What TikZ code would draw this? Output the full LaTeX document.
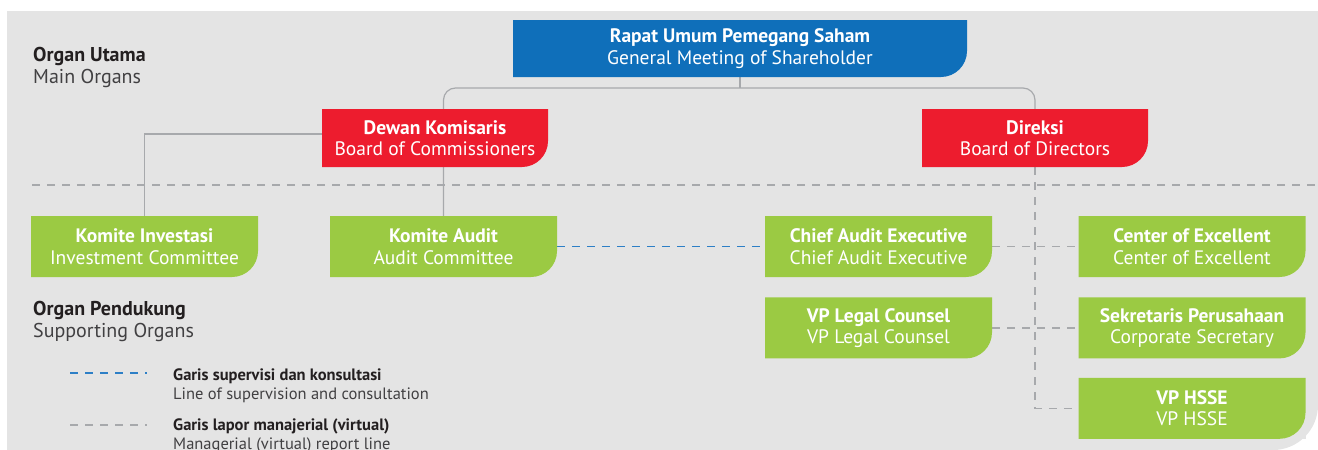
\documentclass[tikz,border=0pt]{standalone}
\usepackage{fontspec}
\setmainfont{PT Sans}
\usetikzlibrary{positioning,backgrounds}
\definecolor{bggrey}{HTML}{E4E4E4}
\definecolor{rupsblue}{HTML}{0F6FBA}
\definecolor{boardred}{HTML}{ED1C2E}
\definecolor{organgreen}{HTML}{9BCA43}
\definecolor{linegrey}{HTML}{A7A9AC}
\definecolor{supblue}{HTML}{2D7FC6}
\definecolor{headdark}{HTML}{231F20}
\definecolor{subgrey}{HTML}{414042}
\tikzset{
    orgbox/.style={
        rectangle,
        fill=bggrey,
        text=white,
        align=center,
        inner sep=0pt,
        minimum width=227pt,
        minimum height=61pt,
        font=\fontsize{19.5}{21.5}\selectfont,
        path picture={
            \fill[#1] (path picture bounding box.north west)
                -- (path picture bounding box.north east)
                -- ([yshift=26pt]path picture bounding box.south east)
                arc[start angle=0,end angle=-90,radius=26pt]
                -- (path picture bounding box.south west) -- cycle;
        }
    },
    bluebox/.style={
        orgbox=rupsblue,
        minimum width=454pt,
        minimum height=57pt
    },
    redbox/.style={
        orgbox=boardred,
        minimum width=226pt,
        minimum height=58pt
    },
    greenbox/.style={
        orgbox=organgreen
    },
    heading/.style={
        anchor=north west,
        align=left,
        inner sep=0pt,
        text=subgrey,
        font=\fontsize{20}{22.5}\selectfont
    },
    legendtext/.style={
        anchor=north west,
        align=left,
        inner sep=0pt,
        text=subgrey,
        font=\fontsize{16.5}{18.5}\selectfont
    },
    conn/.style={
        draw=linegrey,
        line width=1.2pt
    },
    mgrline/.style={
        draw=linegrey,
        line width=1.2pt,
        dash pattern=on 8pt off 7pt
    },
    supline/.style={
        draw=supblue,
        line width=1.2pt,
        dash pattern=on 8pt off 7pt
    }
}

\begin{document}
\begin{tikzpicture}[x=1pt,y=1pt,node distance=20pt]
    \useasboundingbox (0,0) rectangle (1318,-450);

    % main organs
    \node [bluebox] (rups) at (740,-48.5) {\textbf{Rapat Umum Pemegang Saham}\\General Meeting of Shareholder};
    \node [redbox] (dk) at (435,-138) {\textbf{Dewan Komisaris}\\Board of Commissioners};
    \node [redbox] (dir) at (1035,-138) {\textbf{Direksi}\\Board of Directors};

    % supporting organs
    \node [greenbox] (ki) at (144.5,-246.5) {\textbf{Komite Investasi}\\Investment Committee};
    \node [greenbox] (ka) at (443.5,-246.5) {\textbf{Komite Audit}\\Audit Committee};
    \node [greenbox] (cae) at (878.5,-246.5) {\textbf{Chief Audit Executive}\\Chief Audit Executive};
    \node [greenbox] (coe) at (1192,-246.5) {\textbf{Center of Excellent}\\Center of Excellent};
    \node [greenbox] (legal) [below=of cae] {\textbf{VP Legal Counsel}\\VP Legal Counsel};
    \node [greenbox] (sek) [below=of coe] {\textbf{Sekretaris Perusahaan}\\Corporate Secretary};
    \node [greenbox] (hsse) [below=19pt of sek] {\textbf{VP HSSE}\\VP HSSE};

    % headings and legend
    \node [heading] (mainorg) at (33,-47) {\textcolor{headdark}{\textbf{Organ Utama}}\\Main Organs};
    \node [heading] (suporg) at (33,-301) {\textcolor{headdark}{\textbf{Organ Pendukung}}\\Supporting Organs};
    \coordinate (supA) at (70,-373);
    \coordinate (supB) at (147,-373);
    \coordinate (mgrA) at (70,-425);
    \coordinate (mgrB) at (147,-425);
    \node [legendtext] (suptext) at (173,-369) {\textcolor{headdark}{\textbf{Garis supervisi dan konsultasi}}\\Line of supervision and consultation};
    \node [legendtext] (mgrtext) at (173,-419) {\textcolor{headdark}{\textbf{Garis lapor manajerial (virtual)}}\\Managerial (virtual) report line};
    \draw [supline] (supA) -- (supB);
    \draw [mgrline] (mgrA) -- (mgrB);

    \begin{scope}[on background layer]
        \fill [bggrey] (7,-11) -- (1318,-11) -- (1318,-405)
            arc[start angle=0,end angle=-90,radius=45pt] -- (7,-450) -- cycle;
        \coordinate (sepL) at (32,-185);
        \coordinate (sepR) at (1318,-185);
        \draw [mgrline] (sepL) -- (sepR);
        \coordinate (bus) at (rups.south |- 0,-88);
        \draw [conn] (rups.south) -- (bus);
        \draw [conn,rounded corners=12pt] (ka.north) |- (bus) -| (dir.north);
        \draw [conn] ([yshift=4pt]dk.west) -| (ki.north);
        \draw [mgrline] (dir.south) |- (hsse.west);
        \draw [mgrline] (cae.east) -- (coe.west);
        \draw [mgrline] (legal.east) -- (sek.west);
        \draw [supline] (ka.east) -- (cae.west);
    \end{scope}
\end{tikzpicture}
\end{document}
